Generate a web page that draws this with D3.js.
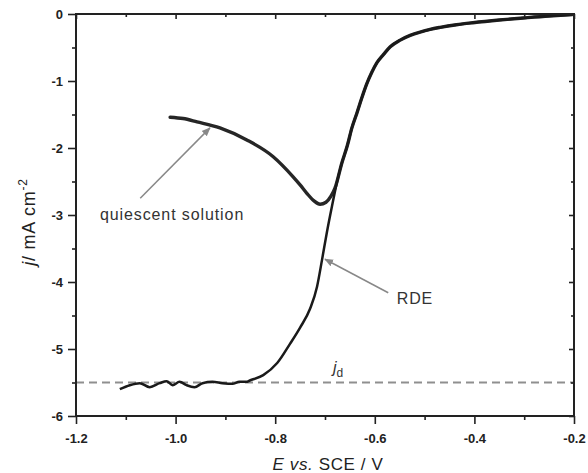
<!DOCTYPE html>
<html>
<head>
<meta charset="utf-8">
<script src="https://cdn.jsdelivr.net/npm/d3@7.9.0/dist/d3.min.js"></script>
<style>
  body { margin: 0; background: #fff; }
  svg { display: block; font-family: "Liberation Sans", Arial, sans-serif; }
  .tick text { font-weight: bold; font-size: 13px; fill: #222; }
  .domain { display: none; }
  .tick line { stroke: #222; stroke-width: 1.6; }
</style>
</head>
<body>
<svg id="chart" width="588" height="473"></svg>
<script>
// RDE trace (E vs SCE in V, j in mA cm-2)
const rdeE = [-1.112, -1.092, -1.072, -1.052, -1.032, -1.018, -1.006, -0.992, -0.978, -0.962,
  -0.946, -0.926, -0.906, -0.886, -0.872, -0.858, -0.851, -0.824, -0.796, -0.770, -0.750,
  -0.730, -0.716, -0.706, -0.696, -0.686, -0.676, -0.666, -0.655, -0.646, -0.636, -0.626,
  -0.616, -0.606, -0.596, -0.582, -0.569, -0.549, -0.529, -0.509, -0.489, -0.469, -0.436,
  -0.403, -0.350, -0.302, -0.250, -0.204];
const rdeJ = [-5.60, -5.54, -5.51, -5.57, -5.51, -5.48, -5.54, -5.49, -5.54, -5.57,
  -5.51, -5.49, -5.51, -5.52, -5.49, -5.49, -5.47, -5.39, -5.21, -4.92, -4.68,
  -4.40, -4.07, -3.67, -3.25, -2.87, -2.51, -2.22, -1.96, -1.70, -1.48, -1.25,
  -1.04, -0.87, -0.73, -0.60, -0.49, -0.39, -0.32, -0.27, -0.23, -0.20, -0.16,
  -0.13, -0.09, -0.06, -0.03, -0.01];

// quiescent-solution trace
const quiE = [-1.011, -0.985, -0.957, -0.911, -0.857, -0.804, -0.764, -0.750, -0.736, -0.722,
  -0.710, -0.698, -0.688, -0.680, -0.666, -0.655, -0.646, -0.636, -0.626, -0.616, -0.606,
  -0.596, -0.582, -0.569, -0.549, -0.529, -0.509, -0.489, -0.469, -0.436, -0.403, -0.350,
  -0.302, -0.250, -0.204];
const quiJ = [-1.54, -1.56, -1.61, -1.70, -1.88, -2.13, -2.43, -2.55, -2.68, -2.79,
  -2.84, -2.81, -2.72, -2.60, -2.22, -1.96, -1.70, -1.48, -1.25, -1.04, -0.87,
  -0.73, -0.60, -0.49, -0.39, -0.32, -0.27, -0.23, -0.20, -0.16, -0.13, -0.09,
  -0.06, -0.03, -0.01];

const limitingJ = -5.5;
const xTicks = [-1.2, -1.0, -0.8, -0.6, -0.4, -0.2];
const xMinor = [-1.1, -0.9, -0.7, -0.5, -0.3];
const yTicks = [0, -1, -2, -3, -4, -5, -6];
const yMinor = [-0.5, -1.5, -2.5, -3.5, -4.5, -5.5];

const W = 588, H = 473;
const margin = { top: 14, right: 14, bottom: 57, left: 76 };
const svg = d3.select("#chart");

const x = d3.scaleLinear().domain([-1.2, -0.2]).range([margin.left, W - margin.right]);
const y = d3.scaleLinear().domain([-6, 0]).range([H - margin.bottom, margin.top]);

const defs = svg.append("defs");
defs.append("marker")
  .attr("id", "arrow")
  .attr("viewBox", "0 0 10 10")
  .attr("refX", 9).attr("refY", 5)
  .attr("markerWidth", 9).attr("markerHeight", 9)
  .attr("markerUnits", "userSpaceOnUse")
  .attr("orient", "auto")
  .append("path")
  .attr("d", "M0,1 L10,5 L0,9 Z")
  .attr("fill", "#888");

// dashed limiting-current line
svg.append("line")
  .attr("x1", x(-1.2)).attr("x2", x(-0.2))
  .attr("y1", y(limitingJ)).attr("y2", y(limitingJ))
  .attr("stroke", "#8f8f8f").attr("stroke-width", 2.2)
  .attr("stroke-dasharray", "8,5");

const line = d3.line().x(d => x(d[0])).y(d => y(d[1])).curve(d3.curveMonotoneX);

svg.append("path")
  .datum(quiE.map((e, i) => [e, quiJ[i]]))
  .attr("d", line)
  .attr("fill", "none").attr("stroke", "#262626").attr("stroke-width", 3.4)
  .attr("stroke-linecap", "round");

svg.append("path")
  .datum(rdeE.map((e, i) => [e, rdeJ[i]]))
  .attr("d", line)
  .attr("fill", "none").attr("stroke", "#1a1a1a").attr("stroke-width", 2.5)
  .attr("stroke-linejoin", "round");

// axes: outward on left/bottom, inward mirrored on top/right
const axBottom = svg.append("g").attr("transform", `translate(0,${H - margin.bottom})`);
axBottom.call(d3.axisBottom(x).tickValues(xTicks).tickSize(8).tickPadding(10).tickFormat(d3.format(".1f")));
axBottom.append("g").call(d3.axisBottom(x).tickValues(xMinor).tickSize(4).tickFormat(""));

const axLeft = svg.append("g").attr("transform", `translate(${margin.left},0)`);
axLeft.call(d3.axisLeft(y).tickValues(yTicks).tickSize(8).tickPadding(5).tickFormat(d3.format("d")));
axLeft.append("g").call(d3.axisLeft(y).tickValues(yMinor).tickSize(4).tickFormat(""));

const axTop = svg.append("g").attr("transform", `translate(0,${margin.top})`);
axTop.call(d3.axisBottom(x).tickValues(xTicks).tickSize(5).tickFormat(""));
axTop.append("g").call(d3.axisBottom(x).tickValues(xMinor).tickSize(3).tickFormat(""));

const axRight = svg.append("g").attr("transform", `translate(${W - margin.right},0)`);
axRight.call(d3.axisLeft(y).tickValues(yTicks).tickSize(5).tickFormat(""));
axRight.append("g").call(d3.axisLeft(y).tickValues(yMinor).tickSize(3).tickFormat(""));

svg.selectAll(".tick text").text(function () {
  return this.textContent.replace("−", "-");
});

// frame
svg.append("rect")
  .attr("x", x(-1.2)).attr("y", y(0))
  .attr("width", x(-0.2) - x(-1.2)).attr("height", y(-6) - y(0))
  .attr("fill", "none").attr("stroke", "#222").attr("stroke-width", 2);

// annotation arrows
svg.append("line")
  .attr("x1", x(-1.071)).attr("y1", y(-2.75))
  .attr("x2", x(-0.931)).attr("y2", y(-1.70))
  .attr("stroke", "#888").attr("stroke-width", 1.5)
  .attr("marker-end", "url(#arrow)");
svg.append("line")
  .attr("x1", x(-0.573)).attr("y1", y(-4.16))
  .attr("x2", x(-0.700)).attr("y2", y(-3.66))
  .attr("stroke", "#888").attr("stroke-width", 1.5)
  .attr("marker-end", "url(#arrow)");

svg.append("text")
  .attr("x", x(-1.152)).attr("y", y(-3.07))
  .attr("font-size", 16).attr("letter-spacing", 0.9).attr("fill", "#333")
  .text("quiescent solution");
svg.append("text")
  .attr("x", x(-0.556)).attr("y", y(-4.33))
  .attr("font-size", 16).attr("letter-spacing", 0.9).attr("fill", "#333")
  .text("RDE");

const jd = svg.append("text")
  .attr("x", x(-0.684)).attr("y", y(-5.36))
  .attr("font-size", 16).attr("fill", "#333");
jd.append("tspan").attr("font-style", "italic").text("j");
jd.append("tspan").attr("font-size", 12).attr("dy", 4).text("d");

// axis titles
const xt = svg.append("text")
  .attr("x", (x(-1.2) + x(-0.2)) / 2 + 3).attr("y", 470)
  .attr("text-anchor", "middle").attr("font-size", 17).attr("letter-spacing", 0.6)
  .attr("fill", "#222");
xt.append("tspan").attr("font-style", "italic").text("E vs.");
xt.append("tspan").text(" SCE / V");

const yt = svg.append("text")
  .attr("transform", `translate(35,222) rotate(-90)`)
  .attr("text-anchor", "middle").attr("font-size", 18).attr("letter-spacing", 0.8)
  .attr("fill", "#222");
yt.append("tspan").attr("font-style", "italic").text("j");
yt.append("tspan").text("/ mA cm");
yt.append("tspan").attr("font-size", 12).attr("dy", -8).text("-2");
</script>
</body>
</html>
